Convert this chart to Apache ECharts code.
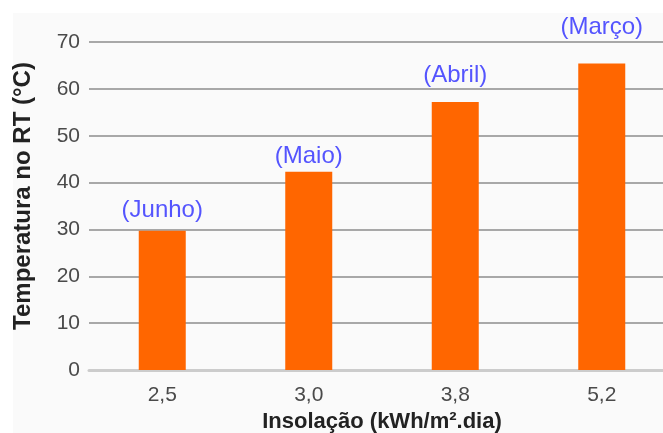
<!DOCTYPE html>
<html><head><meta charset="utf-8">
<script src="https://cdn.jsdelivr.net/npm/echarts@6/dist/echarts.min.js"></script>
<style>html,body{margin:0;padding:0;background:#fff;overflow:hidden}#c{width:663px;height:433px}</style>
</head><body><div id="c"></div>
<script>
var categories = ['2,5', '3,0', '3,8', '5,2'];
var temperatures = [29.7, 42.3, 57.2, 65.4];
var monthLabels = ['(Junho)', '(Maio)', '(Abril)', '(Março)'];
var labelHeights = [34.1, 45.6, 62.9, 73.2];
var yTicks = [0, 10, 20, 30, 40, 50, 60, 70];

var chart = echarts.init(document.getElementById('c'), null, {renderer: 'canvas'});
chart.setOption({
  animation: false,
  backgroundColor: '#ffffff',
  graphic: [{type: 'rect', left: 13, top: 13, shape: {width: 650, height: 420}, style: {fill: '#fafafa'}, z: -10}],
  grid: {left: 89, right: -12, top: 42, bottom: 63, containLabel: false, outerBoundsMode: 'none'},
  xAxis: {
    type: 'category', data: categories,
    axisLine: {show: true, lineStyle: {color: '#cccccc', width: 3}},
    axisTick: {show: false},
    axisLabel: {color: '#4a4a4a', fontSize: 21, fontFamily: 'Liberation Sans', margin: 15},
    name: 'Insolação (kWh/m².dia)', nameLocation: 'middle', nameGap: 37,
    nameTextStyle: {color: '#222', fontSize: 22, fontWeight: 'bold', fontFamily: 'Liberation Sans'}
  },
  yAxis: {
    type: 'value', min: yTicks[0], max: yTicks[yTicks.length - 1], interval: 10,
    axisLine: {show: false}, axisTick: {show: false},
    splitLine: {lineStyle: {color: '#a8a8a8', width: 2}},
    axisLabel: {color: '#4a4a4a', fontSize: 21, fontFamily: 'Liberation Sans', margin: 9},
    name: 'Temperatura no RT (°C)', nameLocation: 'middle', nameGap: 54, nameRotate: 90,
    nameTextStyle: {color: '#222', fontSize: 24, fontWeight: 'bold', fontFamily: 'Liberation Sans', padding: [0, 0, 0, 20]}
  },
  series: [{
    type: 'bar', data: temperatures, barWidth: 47,
    itemStyle: {color: '#ff6600'}
  }, {
    type: 'scatter', data: labelHeights, symbolSize: 0, silent: true, clip: false,
    label: {show: true, position: 'inside', color: '#2b2bff', fontSize: 24, fontFamily: 'Liberation Sans',
      formatter: function (p) { return monthLabels[p.dataIndex]; }}
  }]
});
</script></body></html>
